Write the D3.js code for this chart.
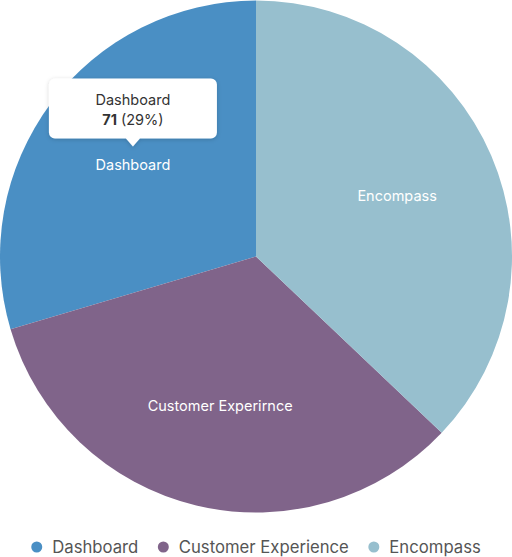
<!DOCTYPE html>
<html>
<head>
<meta charset="utf-8">
<script src="https://cdn.jsdelivr.net/npm/d3@7"></script>
<style>
  html, body { margin: 0; padding: 0; background: #fff; }
  svg { display: block; font-family: Inter, "Noto Sans", sans-serif; }
</style>
</head>
<body>
<svg id="chart" width="512" height="557"></svg>
<script>
// Data
const categories = ["Dashboard", "Customer Experience", "Encompass"];
const sliceLabels = ["Dashboard", "Customer Experirnce", "Encompass"];
const values = [71, 80, 89];
const colors = ["#4a8fc4", "#80648a", "#97bfce"];
const tooltipIndex = 0;

const W = 512, H = 557;
const cx = 256, cy = 256.5, R = 256;
const svg = d3.select("#chart");

const data = categories.map((c, i) => ({ name: c, label: sliceLabels[i], value: values[i], color: colors[i] }));
const total = d3.sum(values);

const pie = d3.pie().sort(null).value(d => d.value).startAngle(2 * Math.PI).endAngle(0);
const arcs = pie(data);
const arc = d3.arc().innerRadius(0).outerRadius(R);
const labelArc = d3.arc().innerRadius(R * 0.6).outerRadius(R * 0.6);

const g = svg.append("g").attr("transform", `translate(${cx},${cy})`);
g.selectAll("path.slice").data(arcs).join("path")
  .attr("class", "slice")
  .attr("d", arc)
  .attr("fill", d => d.data.color);

g.selectAll("text.slabel").data(arcs).join("text")
  .attr("class", "slabel")
  .attr("transform", d => `translate(${labelArc.centroid(d)})`)
  .attr("text-anchor", "middle")
  .attr("dy", "0.35em")
  .attr("fill", "#fff")
  .attr("font-size", 14.5)
  .text(d => d.data.label);

// Tooltip
const defs = svg.append("defs");
const f = defs.append("filter").attr("id", "shadow").attr("x", "-20%").attr("y", "-30%").attr("width", "140%").attr("height", "160%");
f.append("feDropShadow").attr("dx", 0).attr("dy", 1).attr("stdDeviation", 2).attr("flood-color", "#000").attr("flood-opacity", 0.18);

const td = arcs[tooltipIndex];
const [tx, ty] = labelArc.centroid(td);
const tipX = cx + tx, tipY = cy + ty - 18;
const boxW = 168, boxH = 60, pH = 8, pW = 7, rr = 6;
const bx = tipX - boxW / 2, by = tipY - pH - boxH;
const p = d3.path();
p.moveTo(bx + rr, by);
p.lineTo(bx + boxW - rr, by);
p.arcTo(bx + boxW, by, bx + boxW, by + rr, rr);
p.lineTo(bx + boxW, by + boxH - rr);
p.arcTo(bx + boxW, by + boxH, bx + boxW - rr, by + boxH, rr);
p.lineTo(tipX + pW, by + boxH);
p.lineTo(tipX, tipY);
p.lineTo(tipX - pW, by + boxH);
p.lineTo(bx + rr, by + boxH);
p.arcTo(bx, by + boxH, bx, by + boxH - rr, rr);
p.lineTo(bx, by + rr);
p.arcTo(bx, by, bx + rr, by, rr);
p.closePath();
const tt = svg.append("g");
tt.append("path").attr("d", p.toString()).attr("fill", "#fff").attr("filter", "url(#shadow)");
tt.append("text").attr("x", tipX).attr("y", by + 21).attr("dy", "0.35em")
  .attr("text-anchor", "middle").attr("font-size", 14.5).attr("fill", "#333")
  .text(td.data.name);
const t2 = tt.append("text").attr("x", tipX).attr("y", by + 41).attr("dy", "0.35em")
  .attr("text-anchor", "middle").attr("font-size", 14.5).attr("fill", "#333");
t2.append("tspan").attr("font-weight", "bold").text(td.data.value);
t2.append("tspan").text(` (${Math.floor(td.data.value / total * 100)}%)`);

// Legend
const legend = svg.append("g");
const ly = 547, fs = 16.7, cr = 5.5, gapCT = 10, gapItems = 19.5;
const items = legend.selectAll("g.item").data(data).join("g").attr("class", "item");
items.append("circle").attr("r", cr).attr("cy", ly).attr("fill", d => d.color);
items.append("text").attr("y", ly).attr("dy", "0.35em").attr("font-size", fs).attr("fill", "#555").text(d => d.name);
let widths = [];
items.each(function () {
  const tw = d3.select(this).select("text").node().getComputedTextLength();
  widths.push(cr * 2 + gapCT + tw);
});
const totalW = d3.sum(widths) + gapItems * (widths.length - 1);
let x0 = (W - totalW) / 2;
items.each(function (d, i) {
  const s = d3.select(this);
  s.select("circle").attr("cx", x0 + cr);
  s.select("text").attr("x", x0 + cr * 2 + gapCT);
  x0 += widths[i] + gapItems;
});
</script>
</body>
</html>
